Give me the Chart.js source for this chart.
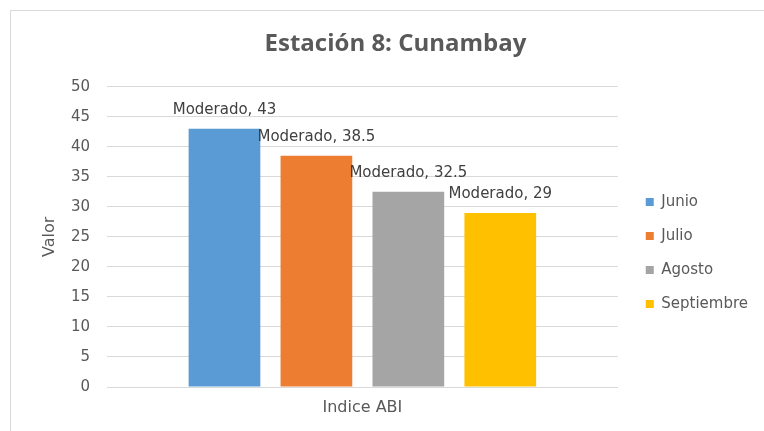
<!DOCTYPE html>
<html>
<head>
<meta charset="utf-8">
<script src="https://cdn.jsdelivr.net/npm/chart.js@4.4.1/dist/chart.umd.min.js"></script>
<style>
  html, body { margin: 0; background: #fff; }
  #wrap {
    position: absolute; left: 10px; top: 10px;
    width: 753px; height: 420px;
    border-top: 1px solid #d9d9d9; border-left: 1px solid #d9d9d9;
  }
</style>
</head>
<body>
<div id="wrap"><canvas id="grafico"></canvas></div>
<script>
// datos
const categorias = ["Indice ABI"];
const meses = ["Junio", "Julio", "Agosto", "Septiembre"];
const valores = [43, 38.5, 32.5, 29];
const niveles = ["Moderado", "Moderado", "Moderado", "Moderado"];
const colores = ["#5b9bd5", "#ed7d31", "#a5a5a5", "#ffc000"];
const ticksY = { min: 0, max: 50, step: 5 };

const FUENTE = "'DejaVu Sans', sans-serif";
const FUENTE_TITULO = "'Open Sans', sans-serif";
const GRIS = "#595959";

// etiquetas "Moderado, 43" sobre cada barra
const etiquetasBarras = {
  id: "etiquetasBarras",
  afterDatasetsDraw(chart) {
    const ctx = chart.ctx;
    ctx.save();
    ctx.font = `15px ${FUENTE}`;
    ctx.fillStyle = "#404040";
    ctx.textAlign = "center";
    ctx.textBaseline = "middle";
    chart.data.datasets.forEach((ds, i) => {
      chart.getDatasetMeta(i).data.forEach((bar, j) => {
        ctx.fillText(`${niveles[i]}, ${ds.data[j]}`, bar.x, bar.y - 19);
      });
    });
    ctx.restore();
  }
};

// la leyenda de Excel queda más pegada al borde derecho y más abajo
const moverLeyenda = {
  id: "moverLeyenda",
  afterLayout(chart) {
    chart.legend.left += 9;
    chart.legend.right += 9;
    chart.legend.top += 34;
    chart.legend.bottom += 34;
  }
};

new Chart(document.getElementById("grafico"), {
  type: "bar",
  data: {
    labels: categorias,
    datasets: meses.map((m, i) => ({
      label: m,
      data: [valores[i]],
      backgroundColor: colores[i],
      borderWidth: 0,
      barPercentage: 0.78,
      categoryPercentage: 0.72
    }))
  },
  options: {
    responsive: true,
    maintainAspectRatio: false,
    animation: false,
    layout: { padding: { left: 31, right: 15, top: 9, bottom: 13 } },
    plugins: {
      title: {
        display: true,
        text: "Estación 8: Cunambay",
        color: GRIS,
        font: { family: FUENTE_TITULO, size: 24, weight: "bold" },
        padding: { top: 10, bottom: 28 }
      },
      legend: {
        position: "right",
        labels: {
          boxWidth: 8,
          boxHeight: 8,
          padding: 19,
          color: GRIS,
          font: { family: FUENTE, size: 15 }
        }
      },
      tooltip: { enabled: false }
    },
    scales: {
      x: {
        grid: { display: false, drawTicks: false },
        border: { color: "#d9d9d9" },
        ticks: { color: GRIS, font: { family: FUENTE, size: 16 }, padding: 11 },
        afterFit(scale) { scale.height = 31; }
      },
      y: {
        min: ticksY.min,
        max: ticksY.max,
        ticks: { stepSize: ticksY.step, color: GRIS, font: { family: FUENTE, size: 15 }, padding: 17 },
        grid: { color: "#d9d9d9", drawTicks: false },
        border: { display: false },
        title: { display: true, text: "Valor", color: GRIS, font: { family: FUENTE, size: 16 }, padding: { top: -2, bottom: 0 } },
        afterFit(scale) { scale.width = 65; }
      }
    }
  },
  plugins: [etiquetasBarras, moverLeyenda]
});
</script>
</body>
</html>
